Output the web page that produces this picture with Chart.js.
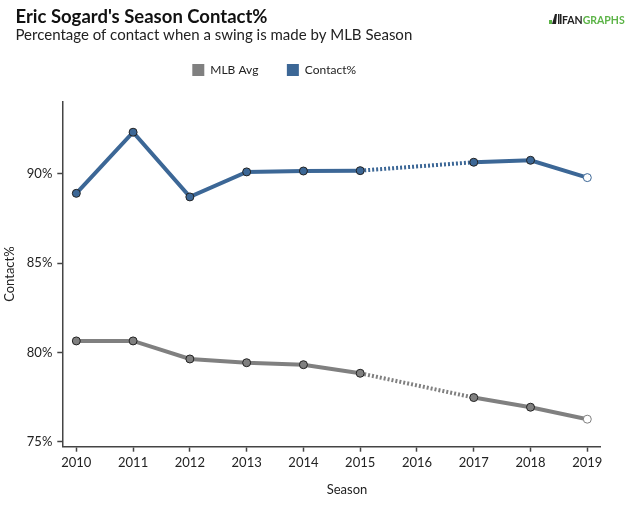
<!DOCTYPE html>
<html><head><meta charset="utf-8">
<script src="https://cdn.jsdelivr.net/npm/chart.js@4.4.1/dist/chart.umd.min.js"></script>
<style>html,body{margin:0;padding:0;background:#fff;}#wrap{width:640px;height:516px;}</style>
</head><body><div id="wrap"><canvas id="c" width="640" height="516"></canvas></div>
<script>
// ---- data ----
const seasons = [2010, 2011, 2012, 2013, 2014, 2015, 2017, 2018, 2019];
const contactPct = [88.90, 92.32, 88.70, 90.10, 90.15, 90.17, 90.64, 90.75, 89.78];
const mlbAvg = [80.64, 80.64, 79.63, 79.42, 79.31, 78.83, 77.47, 76.93, 76.26];
const xTickYears = [2010, 2011, 2012, 2013, 2014, 2015, 2016, 2017, 2018, 2019];
const yTickValues = [75, 80, 85, 90];
const seriesNames = ["MLB Avg", "Contact%"];
const chartTitle = "Eric Sogard's Season Contact%";
const chartSubtitle = "Percentage of contact when a swing is made by MLB Season";
const xAxisTitle = "Season";
const yAxisTitle = "Contact%";

// ---- styles ----
const FONT = "Lato, 'Open Sans', sans-serif";
const BLUE = "#3c6796";
const GRAY = "#808080";
const AXIS = "#444";
const TEXT = "#222";
const LEGEND_PAD = 28.5;

function series(values, name, color) {
  const n = values.length;
  return {
    label: name,
    data: seasons.map((s, i) => ({x: s, y: values[i]})),
    borderColor: color,
    backgroundColor: color,
    borderWidth: 4,
    pointRadius: 4,
    pointHoverRadius: 4,
    pointBorderWidth: 1,
    pointBackgroundColor: values.map((v, i) => i === n - 1 ? "#ffffff" : color),
    pointBorderColor: values.map((v, i) => i === n - 1 ? color : "#222"),
    tension: 0,
    segment: {
      borderDash: ctx => (ctx.p1.parsed.x - ctx.p0.parsed.x > 1.5 ? [2, 2] : undefined)
    }
  };
}

const headerPlugin = {
  id: 'header',
  beforeLayout(chart) {
    const lg = chart.legend;
    if (lg && !lg._wrappedFit) {
      const orig = lg.fit.bind(lg);
      lg.fit = function () { orig(); this.height = 66; };
      lg._wrappedFit = true;
    }
  },
  afterLayout(chart) {
    const lg = chart.legend;
    if (lg && lg.lineWidths && lg.lineWidths.length) {
      const cur = (lg.left + LEGEND_PAD + lg.right - lg.lineWidths[0]) / 2;
      const shift = 192.3 - cur;
      lg.left += shift; lg.right += shift;
    }
  },
  afterDraw(chart) {
    const ctx = chart.ctx;
    ctx.save();
    ctx.fillStyle = "#111";
    ctx.textBaseline = "alphabetic";
    ctx.textAlign = "left";
    ctx.font = "bold 18.5px " + FONT;
    ctx.fillText(chartTitle, 15.5, 22.7);
    ctx.fillStyle = "#222";
    ctx.font = "15px " + FONT;
    ctx.fillText(chartSubtitle, 15.5, 40);
    // x axis title
    ctx.textAlign = "center";
    ctx.font = "13px " + FONT;
    ctx.fillStyle = TEXT;
    ctx.fillText(xAxisTitle, 347, 494);
    // logo
    ctx.textAlign = "left";
    ctx.font = "bold 10.5px " + FONT;
    ctx.fillStyle = "#222";
    ctx.fillText("FAN", 562, 24);
    const w = ctx.measureText("FAN").width;
    ctx.fillStyle = "#5cb447";
    ctx.fillText("GRAPHS", 562 + w, 24);
    ctx.fillStyle = "#5cb447";
    ctx.fillRect(549, 20, 3, 4);
    ctx.fillStyle = "#222";
    ctx.beginPath();
    ctx.moveTo(552, 24); ctx.lineTo(555, 14); ctx.lineTo(557, 14); ctx.lineTo(556, 24); ctx.closePath(); ctx.fill();
    ctx.fillRect(558, 14, 1.5, 10);
    ctx.fillRect(560, 14, 1.5, 10);
    ctx.restore();
  }
};

new Chart(document.getElementById('c'), {
  type: 'line',
  data: { datasets: [series(mlbAvg, seriesNames[0], GRAY), series(contactPct, seriesNames[1], BLUE)] },
  options: {
    responsive: false,
    animation: false,
    devicePixelRatio: 1,
    layout: { padding: { top: 35.5, left: 0, right: 39.3, bottom: 0 } },
    plugins: {
      title: { display: false },
      tooltip: { enabled: false },
      legend: {
        position: 'top',
        align: 'center',
        labels: {
          boxWidth: 12, boxHeight: 12, padding: LEGEND_PAD,
          color: TEXT, font: { family: FONT, size: 12 },
          generateLabels(chart) {
            const items = Chart.defaults.plugins.legend.labels.generateLabels(chart);
            items.forEach(it => { it.lineWidth = 0; it.strokeStyle = 'rgba(0,0,0,0)'; });
            return items;
          }
        }
      }
    },
    scales: {
      x: {
        type: 'linear',
        min: 2009.753, max: 2019.236,
        afterBuildTicks(s) { s.ticks = xTickYears.map(v => ({value: v})); },
        afterFit(s) { s.height = 69.3; },
        ticks: { autoSkip: false, maxRotation: 0, padding: 3, color: TEXT, font: { family: FONT, size: 13 }, callback: v => String(v) },
        grid: { drawOnChartArea: false, drawTicks: true, tickLength: 5, tickColor: AXIS, tickWidth: 1.5 },
        border: { display: true, color: AXIS, width: 1.5 },
        title: { display: false, text: xAxisTitle }
      },
      y: {
        type: 'linear',
        min: 74.72, max: 94.04,
        afterBuildTicks(s) { s.ticks = yTickValues.map(v => ({value: v})); },
        afterFit(s) { s.width = 62.3; },
        ticks: { padding: 5, color: TEXT, font: { family: FONT, size: 13 }, callback: v => v + '%' },
        grid: { drawOnChartArea: false, drawTicks: true, tickLength: 5, tickColor: AXIS, tickWidth: 1.5 },
        border: { display: true, color: AXIS, width: 1.5 },
        title: { display: true, text: yAxisTitle, color: TEXT, font: { family: FONT, size: 13 }, padding: { top: 2, bottom: 0 } }
      }
    }
  },
  plugins: [headerPlugin]
});
</script>
</body></html>
